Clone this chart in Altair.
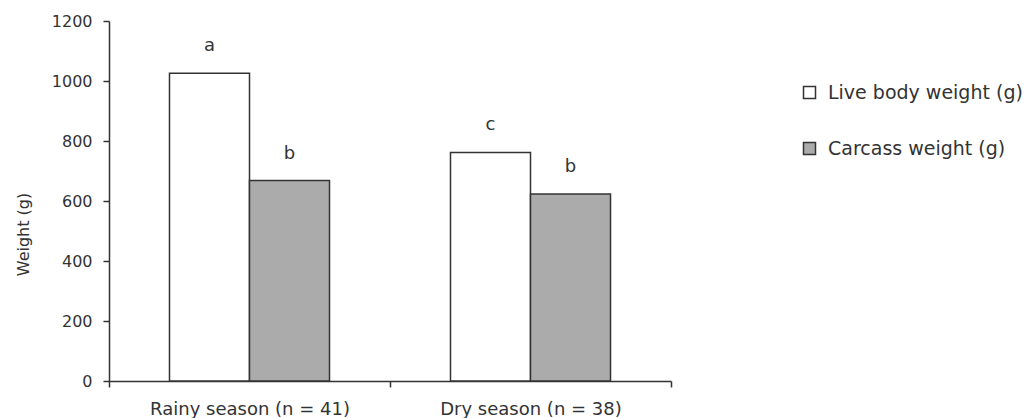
import altair as alt
import pandas as pd

seasons = ["Rainy season (n = 41)", "Dry season (n = 38)"]
series = ["Live body weight (g)", "Carcass weight (g)"]
live_weight = [1026, 762]
carcass_weight = [668, 623]
live_letters = ["a", "c"]
carcass_letters = ["b", "b"]
y_ticks = [0, 200, 400, 600, 800, 1000, 1200]

rows = []
for i, s in enumerate(seasons):
    rows.append(dict(season=s, series=series[0], weight=live_weight[i], letter=live_letters[i]))
    rows.append(dict(season=s, series=series[1], weight=carcass_weight[i], letter=carcass_letters[i]))
df = pd.DataFrame(rows)

FONT = "DejaVu Sans"
INK = "#333333"

x_enc = alt.X(
    "season:N", sort=seasons, title=None,
    scale=alt.Scale(domain=seasons, paddingInner=0, paddingOuter=0),
    axis=alt.Axis(
        tickBand="extent", labelAngle=0, tickSize=6, labelPadding=27,
        labelBaseline="alphabetic", labelFont=FONT, labelFontSize=18,
        labelLimit=0,
        labelColor=INK, domainColor=INK, tickColor=INK,
        domainWidth=1.5, tickWidth=1.5,
    ),
)
xo_enc = alt.XOffset(
    "series:N", sort=series,
    scale=alt.Scale(domain=series, paddingInner=0, paddingOuter=0.756),
)
y_enc = alt.Y(
    "weight:Q",
    scale=alt.Scale(domain=[0, 1200], nice=False),
    axis=alt.Axis(
        values=y_ticks, format="d", grid=False, title="Weight (g)",
        tickSize=6, labelPadding=11, labelFont=FONT, labelFontSize=16,
        labelColor=INK, domainColor=INK, tickColor=INK,
        domainWidth=1.5, tickWidth=1.5,
        titleFont=FONT, titleFontSize=16, titleFontWeight="normal",
        titleColor=INK, titleX=-86, titleY=213, titleAngle=270,
        titleAlign="center", titleBaseline="middle",
    ),
)

bars = alt.Chart(df).mark_bar(stroke=INK, strokeWidth=1.5).encode(
    x=x_enc,
    xOffset=xo_enc,
    y=y_enc,
    fill=alt.Fill(
        "series:N", sort=series,
        scale=alt.Scale(domain=series, range=["#ffffff", "#ababab"]),
        legend=alt.Legend(
            title=None, orient="none", legendX=691, legendY=62,
            symbolType="square", symbolSize=144, symbolStrokeColor=INK,
            symbolStrokeWidth=1.5, labelFont=FONT, labelFontSize=19,
            labelLimit=0,
            labelColor=INK, labelOffset=9, rowPadding=36,
        ),
    ),
)

letters = alt.Chart(df).mark_text(
    dy=-22, baseline="alphabetic", font=FONT, fontSize=18, color=INK
).encode(
    x=alt.X("season:N", sort=seasons),
    xOffset=alt.XOffset("series:N", sort=series),
    y=alt.Y("weight:Q"),
    text="letter:N",
)

chart = alt.layer(bars, letters).properties(
    width=562, height=360,
    autosize=alt.AutoSizeParams(type="none"),
    padding={"left": 101, "top": 13, "right": 352, "bottom": 37},
).configure_view(stroke=None)

chart.save("out.html", embed_options={"renderer": "svg", "actions": False})
